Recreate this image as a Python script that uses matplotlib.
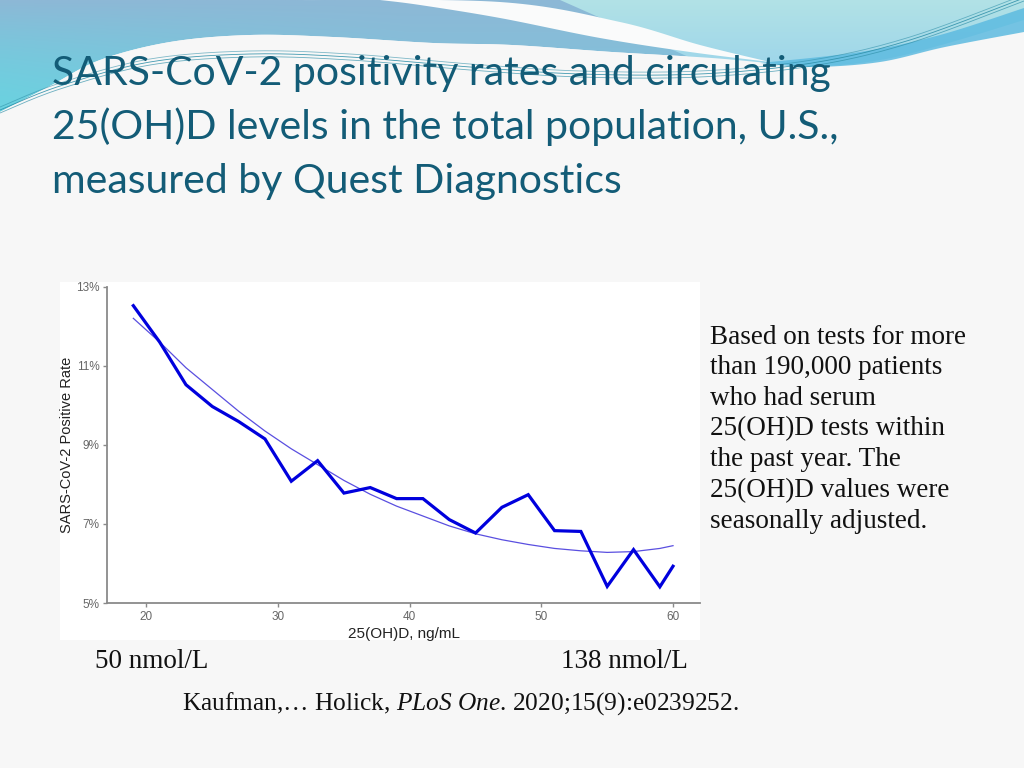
import numpy as np
import matplotlib
matplotlib.use("Agg")
import matplotlib.pyplot as plt
from matplotlib.patches import Polygon, Rectangle
from matplotlib.ticker import FuncFormatter

# ---------------- data ----------------
vitd_ng_ml = [19, 21, 23, 25, 27, 29, 31, 33, 35, 37, 39, 41, 43, 45, 47, 49, 51, 53, 55, 57, 59, 60]
positivity = [12.52, 11.6, 10.52, 9.97, 9.59, 9.15, 8.08, 8.6, 7.78, 7.92, 7.64, 7.64,
              7.11, 6.77, 7.42, 7.74, 6.83, 6.81, 5.42, 6.35, 5.41, 5.93]
fitted = [12.2, 11.6, 10.95, 10.4, 9.85, 9.35, 8.9, 8.5, 8.1, 7.75, 7.45, 7.2,
          6.95, 6.75, 6.6, 6.48, 6.38, 6.32, 6.28, 6.3, 6.38, 6.45]
x_ticks = [20, 30, 40, 50, 60]
y_ticks = [5, 7, 9, 11, 13]

title_lines = ["SARS-CoV-2 positivity rates and circulating",
               "25(OH)D levels in the total population, U.S.,",
               "measured by Quest Diagnostics"]
side_lines = ["Based on tests for more", "than 190,000 patients", "who had serum",
              "25(OH)D tests within", "the past year. The", "25(OH)D values were",
              "seasonally adjusted."]

plt.rcParams["mathtext.fontset"] = "custom"
plt.rcParams["mathtext.rm"] = "Liberation Serif"
plt.rcParams["mathtext.it"] = "Liberation Serif:italic"

W, H = 1024, 768
fig = plt.figure(figsize=(W / 100, H / 100), dpi=100)
fig.patch.set_facecolor("#F6F6F6")

# ---------------- slide decoration ----------------
bg = fig.add_axes([0, 0, 1, 1])
bg.set_xlim(0, W)
bg.set_ylim(H, 0)
bg.axis("off")


def catmull(pts, n=20):
    pts = np.asarray(pts, float)
    p = np.vstack([pts[0], pts, pts[-1]])
    out = []
    for i in range(1, len(p) - 2):
        p0, p1, p2, p3 = p[i - 1], p[i], p[i + 1], p[i + 2]
        t = np.linspace(0, 1, n, endpoint=False)[:, None]
        seg = 0.5 * ((2 * p1) + (-p0 + p2) * t + (2 * p0 - 5 * p1 + 4 * p2 - p3) * t ** 2
                     + (-p0 + 3 * p1 - 3 * p2 + p3) * t ** 3)
        out.append(seg)
    out.append(pts[-1][None, :])
    return np.vstack(out)


def grad_fill(poly_pts, c_top, c_bot, c_left=None, z=1):
    poly = Polygon(poly_pts, closed=True, facecolor="none", edgecolor="none")
    bg.add_patch(poly)
    ny, nx = 100, 200
    yy, xx = np.mgrid[0:1:ny * 1j, 0:1:nx * 1j]
    ct = np.array(matplotlib.colors.to_rgb(c_top))
    cb = np.array(matplotlib.colors.to_rgb(c_bot))
    img = ct[None, None, :] * (1 - yy[..., None]) + cb[None, None, :] * yy[..., None]
    if c_left is not None:
        cl = np.array(matplotlib.colors.to_rgb(c_left))
        wl = np.clip(1 - xx * 2.5, 0, 1)[..., None] * yy[..., None]
        img = img * (1 - wl) + cl[None, None, :] * wl
    ymax = np.max(np.asarray(poly_pts)[:, 1])
    im = bg.imshow(img, extent=[0, W, ymax, 0], aspect="auto", zorder=z, interpolation="bilinear")
    im.set_clip_path(poly)


# left blue region (above the white wave)
lower_left = catmull([(0, 112), (50, 86), (100, 60), (170, 42), (250, 35), (333, 37),
                      (433, 43), (512, 45), (612, 52), (712, 58), (812, 66)])
left_poly = np.vstack([[(0, 0)], lower_left, [(812, 0)]])
grad_fill(left_poly, "#8DB8D6", "#7CC6DD", c_left="#6AD2E0", z=1)

# right light-cyan region
right_low = catmull([(700, 62), (812, 66), (880, 60), (945, 44), (1024, 20)])
right_poly = np.vstack([[(560, 0)], right_low, [(1024, 0)]])
grad_fill(right_poly, "#B2E2E6", "#9ED6EA", z=2)

# darker blue band along the right wave
band_top = catmull([(760, 63), (860, 52), (940, 35), (1024, 8)])
band_bot = catmull([(1024, 32), (945, 47), (880, 62), (812, 67), (760, 63)])
bg.add_patch(Polygon(np.vstack([band_top, band_bot]), closed=True,
                     facecolor="#5DBBE0", edgecolor="none", alpha=0.85, zorder=3))

# white stripe
stripe_top = catmull([(300, 0), (500, 2), (620, 22), (700, 45), (770, 62)])
stripe_bot = catmull([(770, 62), (690, 52), (600, 38), (500, 18), (420, 5), (380, 0)])
bg.add_patch(Polygon(np.vstack([stripe_top, stripe_bot]), closed=True,
                     facecolor="#FAFBFB", edgecolor="none", zorder=3))

# white area below waves
white_top = catmull([(0, 112), (50, 86), (100, 60), (170, 42), (250, 35), (333, 37),
                     (433, 43), (512, 45), (612, 52), (712, 58), (812, 66),
                     (880, 62), (945, 47), (1024, 30)])
bg.add_patch(Polygon(np.vstack([white_top, [(1024, H), (0, H)]]), closed=True,
                     facecolor="#F7F7F7", edgecolor="none", zorder=2.5))

# thin teal lines
for dy, a in [(0, 0.9), (3, 0.7), (-3, 0.6)]:
    ln = catmull([(0, 110 + dy), (60, 86 + dy), (150, 62 + dy), (250, 54 + dy), (350, 57 + dy),
                  (470, 67 + dy), (580, 74 + dy), (700, 74 + dy), (812, 63 + dy),
                  (910, 40 + dy), (1024, -2 + dy)])
    bg.plot(ln[:, 0], ln[:, 1], color="#2E8FA8", lw=0.6, alpha=a, zorder=4)

# ---------------- title ----------------
title_color = "#135C77"
for i, t in enumerate(title_lines):
    bg.text(52, 73 + 54 * i, t, fontsize=29.5, family="Lato", color=title_color,
            ha="left", va="center", zorder=6)

# ---------------- chart ----------------
bg.add_patch(Rectangle((60, 282), 640, 358, facecolor="white", edgecolor="none", zorder=5))

ax = fig.add_axes([107 / W, 1 - 603 / H, (700 - 107) / W, (603 - 286.7) / H])
ax.set_facecolor("none")
ax.plot(vitd_ng_ml, positivity, color="#0000DD", lw=2.3, solid_joinstyle="miter", zorder=3)
ax.plot(vitd_ng_ml, fitted, color="#5A4FE0", lw=0.9, zorder=2)
ax.set_xlim(17.0, 62.05)
ax.set_ylim(5, 13)
ax.set_xticks(x_ticks)
ax.set_yticks(y_ticks)
ax.yaxis.set_major_formatter(FuncFormatter(lambda v, p: f"{v:.0f}%"))
for s in ["top", "right"]:
    ax.spines[s].set_visible(False)
for s in ["left", "bottom"]:
    ax.spines[s].set_color("#8A8A8A")
    ax.spines[s].set_linewidth(1.3)
ax.tick_params(axis="both", colors="#8A8A8A", length=3, width=1, labelsize=8.5,
               labelcolor="#666666", pad=2.5)
for lab in ax.get_xticklabels() + ax.get_yticklabels():
    lab.set_family("Liberation Sans")
ax.set_xlabel("25(OH)D, ng/mL", fontsize=11, family="Liberation Sans", color="#222222", labelpad=3)
ax.set_ylabel("SARS-CoV-2 Positive Rate", fontsize=10.5, family="Liberation Sans",
              color="#222222", labelpad=1)

# ---------------- side & bottom text ----------------
fs = 19.5
for i, t in enumerate(side_lines):
    bg.text(710, 337 + 30.7 * i, t, fontsize=fs, family="Liberation Serif", color="#111111",
            ha="left", va="center", zorder=6)
bg.text(95, 662, "50 nmol/L", fontsize=fs, family="Liberation Serif", color="#111111",
        ha="left", va="center", zorder=6)
bg.text(688, 662, "138 nmol/L", fontsize=fs, family="Liberation Serif", color="#111111",
        ha="right", va="center", zorder=6)
bg.text(182, 704, r"Kaufman,… Holick, $\mathit{PLoS\ One}$. 2020;15(9):e0239252.",
        fontsize=18.3, family="Liberation Serif", color="#111111", ha="left", va="center", zorder=6)

fig.savefig("out.png", dpi=100, facecolor=fig.get_facecolor())
